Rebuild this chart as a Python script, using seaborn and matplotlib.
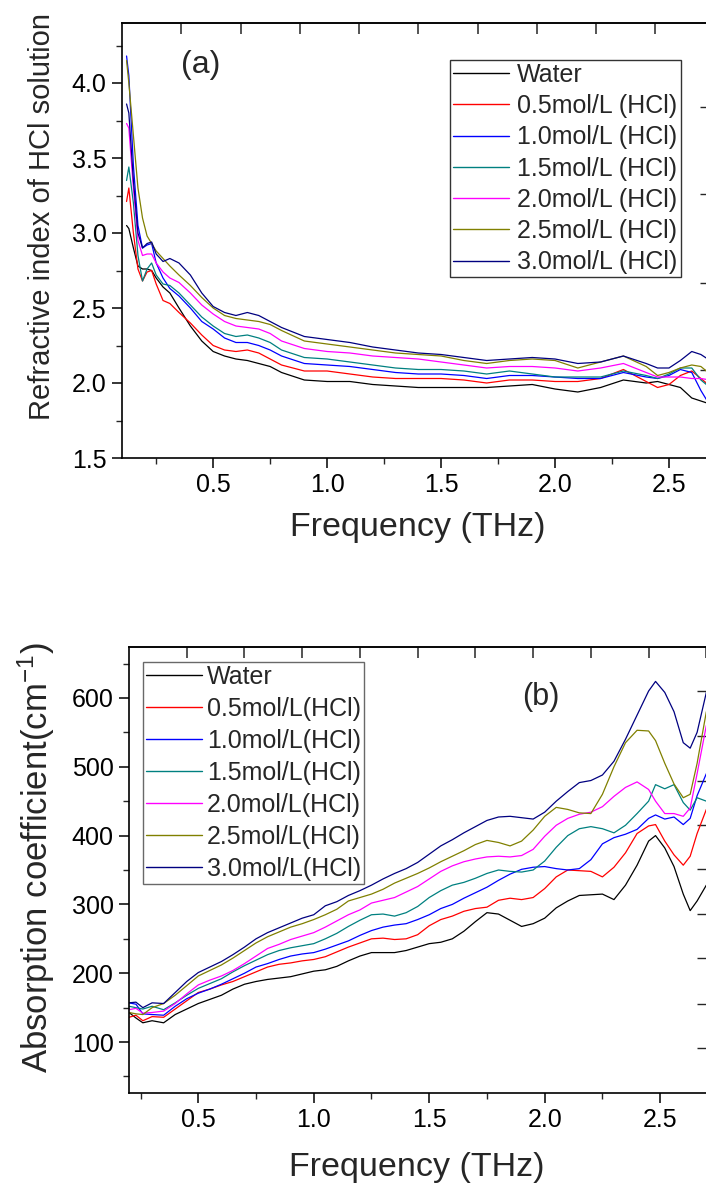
import numpy as np
import pandas as pd
import matplotlib
matplotlib.use("Agg")
import matplotlib.pyplot as plt
import seaborn as sns
from matplotlib.ticker import MultipleLocator

# ---------------- data: panel (a) refractive index ----------------
freq_a = [0.12, 0.13, 0.15, 0.17, 0.19, 0.21, 0.23, 0.25, 0.28, 0.31, 0.35, 0.40,
          0.45, 0.50, 0.55, 0.60, 0.65, 0.70, 0.75, 0.80, 0.90, 1.00, 1.10, 1.20,
          1.30, 1.40, 1.50, 1.60, 1.70, 1.80, 1.90, 2.00, 2.10, 2.20, 2.30, 2.40,
          2.45, 2.50, 2.55, 2.60, 2.64, 2.68]
n_water = [3.05, 3.03, 2.90, 2.78, 2.76, 2.76, 2.75, 2.70, 2.64, 2.60, 2.50, 2.38,
           2.28, 2.21, 2.18, 2.16, 2.15, 2.13, 2.11, 2.07, 2.02, 2.01, 2.01, 1.99,
           1.98, 1.97, 1.97, 1.97, 1.97, 1.98, 1.99, 1.96, 1.94, 1.97, 2.02, 2.00,
           2.01, 1.99, 1.97, 1.90, 1.88, 1.86]
n_05 = [3.21, 3.30, 3.00, 2.76, 2.68, 2.74, 2.75, 2.66, 2.55, 2.53, 2.47, 2.40,
        2.32, 2.25, 2.22, 2.21, 2.22, 2.20, 2.16, 2.12, 2.08, 2.08, 2.06, 2.04,
        2.03, 2.03, 2.03, 2.02, 2.00, 2.02, 2.02, 2.01, 2.01, 2.03, 2.09, 2.01,
        1.97, 1.99, 2.05, 2.08, 2.03, 1.98]
n_10 = [4.18, 4.05, 3.45, 3.05, 2.90, 2.92, 2.93, 2.80, 2.70, 2.63, 2.58, 2.50,
        2.41, 2.36, 2.30, 2.27, 2.27, 2.25, 2.22, 2.18, 2.13, 2.12, 2.11, 2.09,
        2.07, 2.06, 2.06, 2.05, 2.03, 2.05, 2.05, 2.04, 2.03, 2.03, 2.07, 2.04,
        2.03, 2.05, 2.09, 2.07, 1.95, 1.85]
n_15 = [3.35, 3.44, 3.20, 2.85, 2.68, 2.76, 2.80, 2.72, 2.66, 2.65, 2.60, 2.52,
        2.44, 2.38, 2.33, 2.31, 2.32, 2.30, 2.27, 2.22, 2.17, 2.16, 2.14, 2.12,
        2.10, 2.09, 2.09, 2.08, 2.06, 2.08, 2.06, 2.04, 2.04, 2.04, 2.08, 2.05,
        2.03, 2.06, 2.10, 2.10, 2.02, 1.97]
n_20 = [3.73, 3.70, 3.30, 2.95, 2.85, 2.86, 2.86, 2.80, 2.74, 2.70, 2.67, 2.60,
        2.52, 2.46, 2.41, 2.38, 2.37, 2.36, 2.33, 2.28, 2.23, 2.21, 2.20, 2.18,
        2.17, 2.16, 2.14, 2.12, 2.10, 2.11, 2.11, 2.10, 2.08, 2.10, 2.13, 2.07,
        2.04, 2.04, 2.04, 2.03, 2.03, 2.02]
n_25 = [4.15, 4.00, 3.65, 3.30, 3.10, 2.98, 2.93, 2.88, 2.83, 2.78, 2.72, 2.65,
        2.57, 2.50, 2.45, 2.43, 2.42, 2.41, 2.39, 2.35, 2.28, 2.26, 2.24, 2.22,
        2.20, 2.19, 2.18, 2.15, 2.13, 2.15, 2.16, 2.15, 2.10, 2.14, 2.18, 2.11,
        2.05, 2.07, 2.10, 2.12, 2.11, 2.06]
n_30 = [3.86, 3.80, 3.35, 3.00, 2.90, 2.93, 2.94, 2.86, 2.81, 2.83, 2.80, 2.72,
        2.60, 2.51, 2.47, 2.45, 2.47, 2.45, 2.41, 2.37, 2.31, 2.29, 2.27, 2.24,
        2.22, 2.20, 2.19, 2.17, 2.15, 2.16, 2.17, 2.16, 2.13, 2.14, 2.18, 2.13,
        2.10, 2.10, 2.15, 2.21, 2.19, 2.15]

# ---------------- data: panel (b) absorption coefficient ----------------
freq_b = [0.20, 0.23, 0.26, 0.30, 0.35, 0.40, 0.45, 0.50, 0.55, 0.60, 0.65, 0.70,
          0.75, 0.80, 0.85, 0.90, 0.95, 1.00, 1.05, 1.10, 1.15, 1.20, 1.25, 1.30,
          1.35, 1.40, 1.45, 1.50, 1.55, 1.60, 1.65, 1.70, 1.75, 1.80, 1.85, 1.90,
          1.95, 2.00, 2.05, 2.10, 2.15, 2.20, 2.25, 2.30, 2.35, 2.40, 2.45, 2.48,
          2.52, 2.56, 2.60, 2.63, 2.66, 2.70]
a_water = [143, 135, 128, 131, 128, 140, 148, 156, 162, 168, 177, 184,
           188, 191, 193, 195, 199, 203, 205, 210, 218, 225, 230, 230,
           230, 233, 238, 243, 245, 250, 261, 275, 288, 286, 277, 268,
           272, 280, 295, 305, 313, 314, 315, 307, 328, 357, 392, 400,
           382, 355, 315, 291, 305, 328]
a_05 = [136, 139, 131, 137, 136, 148, 160, 172, 177, 183, 188, 195,
        202, 209, 213, 215, 218, 220, 224, 231, 238, 244, 250, 251,
        249, 250, 256, 269, 278, 283, 290, 294, 296, 306, 309, 307,
        310, 323, 340, 350, 349, 348, 340, 354, 375, 403, 414, 416,
        392, 372, 357, 370, 403, 438]
a_10 = [157, 155, 141, 140, 139, 152, 163, 171, 177, 184, 192, 200,
        209, 214, 220, 225, 228, 230, 235, 241, 247, 255, 262, 267,
        270, 272, 278, 285, 294, 300, 309, 317, 325, 335, 344, 351,
        354, 355, 352, 350, 352, 365, 388, 397, 402, 409, 425, 430,
        424, 427, 416, 425, 458, 490]
a_15 = [152, 150, 148, 152, 147, 157, 168, 178, 185, 192, 202, 211,
        219, 227, 233, 237, 240, 243, 250, 258, 268, 277, 285, 286,
        283, 288, 297, 310, 320, 328, 332, 338, 345, 350, 348, 347,
        350, 363, 383, 400, 410, 413, 410, 404, 415, 432, 450, 474,
        468, 474, 448, 437, 455, 450]
a_20 = [147, 149, 142, 143, 145, 156, 170, 183, 190, 196, 204, 214,
        225, 236, 242, 249, 254, 259, 267, 276, 285, 292, 302, 306,
        310, 318, 326, 337, 348, 356, 362, 366, 369, 370, 369, 371,
        380, 399, 415, 425, 431, 434, 442, 457, 470, 478, 467, 450,
        432, 432, 428, 440, 490, 560]
a_25 = [143, 141, 140, 150, 156, 168, 182, 196, 204, 212, 222, 233,
        244, 253, 260, 267, 272, 278, 285, 293, 305, 310, 315, 322,
        331, 338, 345, 353, 362, 370, 378, 387, 393, 390, 385, 392,
        408, 428, 441, 438, 433, 432, 460, 500, 535, 553, 552, 538,
        505, 475, 455, 460, 505, 580]
a_30 = [157, 158, 150, 157, 156, 172, 188, 201, 209, 217, 227, 238,
        250, 259, 266, 273, 280, 285, 298, 304, 313, 320, 328, 337,
        345, 352, 361, 373, 385, 394, 404, 413, 422, 427, 428, 426,
        424, 434, 450, 464, 477, 480, 488, 508, 540, 575, 610, 624,
        608, 580, 535, 527, 550, 608]

labels_a = ["Water", "0.5mol/L (HCl)", "1.0mol/L (HCl)", "1.5mol/L (HCl)",
            "2.0mol/L (HCl)", "2.5mol/L (HCl)", "3.0mol/L (HCl)"]
labels_b = ["Water", "0.5mol/L(HCl)", "1.0mol/L(HCl)", "1.5mol/L(HCl)",
            "2.0mol/L(HCl)", "2.5mol/L(HCl)", "3.0mol/L(HCl)"]
colors = ["#000000", "#ff0000", "#0000ff", "#008080", "#ff00ff", "#808000", "#000080"]

series_a = [n_water, n_05, n_10, n_15, n_20, n_25, n_30]
series_b = [a_water, a_05, a_10, a_15, a_20, a_25, a_30]

# ---------------- styling ----------------
sns.set_style("ticks")
plt.rcParams["font.family"] = ["Liberation Sans", "DejaVu Sans"]
plt.rcParams["mathtext.fontset"] = "custom"
plt.rcParams["mathtext.rm"] = "Liberation Sans"
plt.rcParams["mathtext.it"] = "Liberation Sans"
plt.rcParams["axes.linewidth"] = 1.2

W, H = 706, 1189
fig = plt.figure(figsize=(W / 100, H / 100), dpi=100)

def px_axes(l, t, r, b):
    return fig.add_axes([l / W, 1 - b / H, (r - l) / W, (b - t) / H])

ax1 = px_axes(122, 23, 710, 458)
ax2 = px_axes(129, 647, 707.5, 1093)

def style_axis(ax):
    ax.tick_params(axis="both", which="major", direction="out", length=7, width=1.1,
                   labelsize=18, pad=4, top=False, right=False, colors="black")
    ax.tick_params(axis="both", which="minor", direction="out", length=4.5, width=1.0,
                   top=False, right=False)
    for s in ax.spines.values():
        s.set_visible(True)
        s.set_color("black")
        s.set_linewidth(1.2)

# ---------------- panel (a) ----------------
for vals, lab, col in zip(series_a, labels_a, colors):
    sns.lineplot(x=freq_a, y=vals, ax=ax1, color=col, lw=0.9, label=lab,
                 sort=False, estimator=None)
ax1.set_xlim(0.1, 2.68)
ax1.set_ylim(1.5, 4.4)
ax1.xaxis.set_major_locator(MultipleLocator(0.5))
ax1.xaxis.set_minor_locator(MultipleLocator(0.25))
ax1.yaxis.set_minor_locator(MultipleLocator(0.25))
ax1.set_yticks([1.5, 2.0, 2.5, 3.0, 3.5, 4.0])
style_axis(ax1)
ax1.set_xlabel("Frequency (THz)", fontsize=24.5)
ax1.set_ylabel("Refractive index of HCl solution", fontsize=21)
ax1.xaxis.set_label_coords(0.503, -0.125)
ax1.yaxis.set_label_coords(-0.112, 0.556)
ax1.text(0.133, 0.903, "(a)", transform=ax1.transAxes, fontsize=23,
         ha="center", va="center")
top1 = ax1.secondary_xaxis("top")
top1.set_xticks([0.36 + 0.26 * k for k in range(10)])
top1.set_xticklabels([])
top1.tick_params(direction="in", length=8, width=1.1)
right1 = ax1.secondary_yaxis("right")
right1.set_yticks([3.84, 3.26, 2.67, 2.09])
right1.set_yticklabels([])
right1.tick_params(direction="in", length=7, width=1.0)
leg1 = ax1.legend(loc="upper left", bbox_to_anchor=(0.558, 0.915), borderaxespad=0,
                  fontsize=18, frameon=True, fancybox=False, edgecolor="black",
                  handlelength=2.25, handletextpad=0.32, labelspacing=0.29,
                  borderpad=0.12)
leg1.get_frame().set_linewidth(1.0)
for ln in leg1.get_lines():
    ln.set_linewidth(1.0)

# ---------------- panel (b) ----------------
for vals, lab, col in zip(series_b, labels_b, colors):
    sns.lineplot(x=freq_b, y=vals, ax=ax2, color=col, lw=0.9, label=lab,
                 sort=False, estimator=None)
ax2.set_xlim(0.2, 2.705)
ax2.set_ylim(26, 674)
ax2.xaxis.set_major_locator(MultipleLocator(0.5))
ax2.xaxis.set_minor_locator(MultipleLocator(0.25))
ax2.set_yticks([100, 200, 300, 400, 500, 600])
ax2.yaxis.set_minor_locator(MultipleLocator(50))
style_axis(ax2)
ax2.set_xlabel("Frequency (THz)", fontsize=24.5)
ax2.set_ylabel("Absorption coefficient(cm$^{-1}$)", fontsize=25)
ax2.xaxis.set_label_coords(0.498, -0.133)
ax2.yaxis.set_label_coords(-0.124, 0.528)
ax2.text(0.712, 0.888, "(b)", transform=ax2.transAxes, fontsize=22,
         ha="center", va="center")
top2 = ax2.secondary_xaxis("top")
top2.set_xticks([0.45 + 0.25 * k for k in range(10)])
top2.set_xticklabels([])
top2.tick_params(direction="in", length=8, width=1.1)
right2 = ax2.secondary_yaxis("right")
right2.set_yticks([91, 156, 222, 286, 351, 415, 480, 545, 610])
right2.set_yticklabels([])
right2.tick_params(direction="in", length=8, width=1.0)
leg2 = ax2.legend(loc="upper left", bbox_to_anchor=(0.024, 0.966), borderaxespad=0,
                  fontsize=18, frameon=True, fancybox=False, edgecolor="#444444",
                  handlelength=2.25, handletextpad=0.2, labelspacing=0.32,
                  borderpad=0.12)
leg2.get_frame().set_linewidth(1.0)
for ln in leg2.get_lines():
    ln.set_linewidth(1.0)

fig.savefig("out.png", dpi=100)
